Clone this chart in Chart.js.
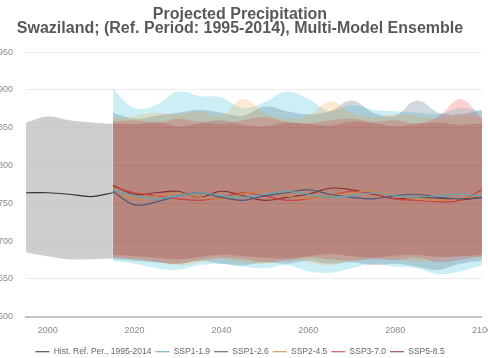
<!DOCTYPE html>
<html>
<head>
<meta charset="utf-8">
<script src="https://cdn.jsdelivr.net/npm/chart.js@4.4.0/dist/chart.umd.min.js"></script>
<style>
  html, body { margin: 0; padding: 0; background: #fff; overflow: hidden; }
  #wrap { position: relative; width: 488px; height: 358px; overflow: hidden; }
  #myChart { position: absolute; left: -20px; top: 0; }
</style>
</head>
<body>
<div id="wrap"><canvas id="myChart" width="520" height="358"></canvas></div>
<script>
// years
const histYears = [1995, 2000, 2005, 2010, 2015];
const sspYears = [2015, 2020, 2025, 2030, 2035, 2040, 2045, 2050, 2055, 2060, 2065, 2070, 2075, 2080, 2085, 2090, 2095, 2100];
const xTicks = [2000, 2020, 2040, 2060, 2080, 2100];
const yTicks = [600, 650, 700, 750, 800, 850, 900, 950];

// historical reference period (mm)
const histMean = [764, 764, 762, 759, 764];
const histUpper = [857, 865, 860, 857, 855];
const histLower = [685, 680, 676, 676, 677];

// scenario means
const ssp119Mean = [768, 760, 756, 760, 764, 760, 758, 762, 766, 762, 758, 760, 764, 760, 758, 760, 762, 760];
const ssp126Mean = [766, 748, 752, 760, 764, 758, 754, 760, 764, 768, 762, 758, 756, 760, 762, 758, 756, 758];
const ssp245Mean = [770, 756, 760, 764, 758, 756, 762, 766, 760, 756, 760, 764, 766, 760, 756, 754, 756, 762];
const ssp370Mean = [772, 764, 760, 756, 754, 758, 764, 760, 754, 756, 760, 766, 762, 756, 754, 752, 754, 768];
const ssp585Mean = [774, 762, 764, 766, 758, 766, 760, 754, 758, 762, 770, 768, 762, 756, 758, 757, 755, 758];

// scenario ranges
const ssp119Upper = [902, 876, 880, 898, 892, 890, 876, 884, 898, 888, 872, 880, 874, 872, 870, 868, 876, 872];
const ssp119Lower = [674, 670, 664, 662, 668, 670, 666, 664, 668, 660, 658, 664, 670, 666, 664, 656, 660, 668];
const ssp126Upper = [870, 862, 866, 870, 874, 870, 866, 878, 872, 868, 872, 886, 870, 866, 886, 870, 868, 874];
const ssp126Lower = [676, 674, 672, 670, 674, 670, 668, 672, 670, 674, 670, 672, 668, 670, 666, 662, 670, 674];
const ssp245Upper = [862, 866, 870, 868, 872, 866, 888, 870, 862, 866, 885, 870, 864, 868, 866, 862, 866, 864];
const ssp245Lower = [680, 676, 674, 668, 672, 676, 672, 670, 676, 672, 668, 674, 678, 676, 672, 676, 680, 678];
const ssp370Upper = [858, 860, 856, 862, 858, 855, 860, 864, 858, 856, 860, 862, 858, 860, 856, 865, 888, 862];
const ssp370Lower = [678, 676, 672, 670, 675, 678, 676, 672, 674, 678, 676, 674, 676, 675, 678, 672, 675, 680];
const ssp585Upper = [856, 855, 858, 852, 856, 860, 854, 852, 857, 855, 853, 858, 856, 852, 855, 857, 854, 856];
const ssp585Lower = [682, 680, 678, 676, 679, 682, 680, 678, 677, 680, 683, 680, 678, 681, 682, 679, 680, 682];

const FONT = "'Liberation Sans', Arial, sans-serif";

function pts(xs, ys) {
    return xs.map((x, i) => ({ x: x, y: ys[i] }));
}

function meanLine(label, xs, ys, color) {
    return {
        label: label,
        data: pts(xs, ys),
        borderColor: color,
        backgroundColor: color,
        borderWidth: 1.2,
        pointRadius: 0,
        pointStyle: 'line',
        tension: 0.4,
        fill: false
    };
}

function band(xs, up, lo, color) {
    return [{
        label: '',
        data: pts(xs, up),
        borderWidth: 0,
        pointRadius: 0,
        tension: 0.4,
        backgroundColor: color,
        fill: '+1'
    }, {
        label: '',
        data: pts(xs, lo),
        borderWidth: 0,
        pointRadius: 0,
        tension: 0.4,
        fill: false
    }];
}

const datasets = [
    meanLine('Hist. Ref. Per., 1995-2014', histYears, histMean, '#333333'),
    meanLine('SSP1-1.9', sspYears, ssp119Mean, '#5aa9b4'),
    meanLine('SSP1-2.6', sspYears, ssp126Mean, '#4a5a78'),
    meanLine('SSP2-4.5', sspYears, ssp245Mean, '#c98a4a'),
    meanLine('SSP3-7.0', sspYears, ssp370Mean, '#cc4040'),
    meanLine('SSP5-8.5', sspYears, ssp585Mean, '#8a2e2e'),
    ...band(sspYears, ssp585Upper, ssp585Lower, 'rgba(149,27,30,0.2)'),
    ...band(sspYears, ssp370Upper, ssp370Lower, 'rgba(231,29,37,0.2)'),
    ...band(sspYears, ssp245Upper, ssp245Lower, 'rgba(247,148,32,0.2)'),
    ...band(sspYears, ssp126Upper, ssp126Lower, 'rgba(23,60,102,0.2)'),
    ...band(sspYears, ssp119Upper, ssp119Lower, 'rgba(0,173,207,0.2)'),
    ...band(histYears, histUpper, histLower, 'rgba(190,190,190,0.75)')
];

new Chart(document.getElementById('myChart'), {
    type: 'line',
    data: { datasets: datasets },
    options: {
        responsive: false,
        animation: false,
        layout: { padding: { left: 5, right: 5, top: 0, bottom: -8 } },
        scales: {
            x: {
                type: 'linear',
                min: 1995,
                max: 2100,
                grid: { display: false, drawTicks: false },
                border: { display: true, color: '#c4c4c4', width: 2 },
                afterBuildTicks: function(scale) {
                    scale.ticks = xTicks.map(v => ({ value: v }));
                },
                ticks: {
                    font: { family: FONT, size: 9 },
                    color: '#8a8a8a',
                    padding: 8,
                    maxRotation: 0,
                    callback: v => String(v)
                }
            },
            y: {
                min: 600,
                max: 950,
                afterBuildTicks: function(scale) {
                    scale.ticks = yTicks.map(v => ({ value: v }));
                },
                grid: { color: '#ececec', drawTicks: false },
                border: { display: false },
                ticks: {
                    font: { family: FONT, size: 9 },
                    color: '#8a8a8a',
                    padding: 13
                }
            },
            // empty right axis, only reserves room on the right
            yRight: {
                position: 'right',
                min: 600,
                max: 950,
                grid: { display: false, drawTicks: false },
                border: { display: false },
                ticks: { display: false },
                afterFit: function(scale) {
                    scale.width = 11;
                }
            }
        },
        plugins: {
            title: {
                display: true,
                text: ['Projected Precipitation', 'Swaziland; (Ref. Period: 1995-2014), Multi-Model Ensemble'],
                font: { family: FONT, size: 16, weight: 'bold', lineHeight: 0.85 },
                color: '#595959',
                padding: { top: 8, bottom: 17 }
            },
            legend: {
                position: 'bottom',
                labels: {
                    filter: item => item.datasetIndex < 6,
                    usePointStyle: true,
                    pointStyleWidth: 14,
                    boxHeight: 8,
                    padding: 4,
                    font: { family: FONT, size: 8.5 },
                    color: '#666666'
                }
            },
            tooltip: { enabled: false }
        }
    }
});
</script>
</body>
</html>
